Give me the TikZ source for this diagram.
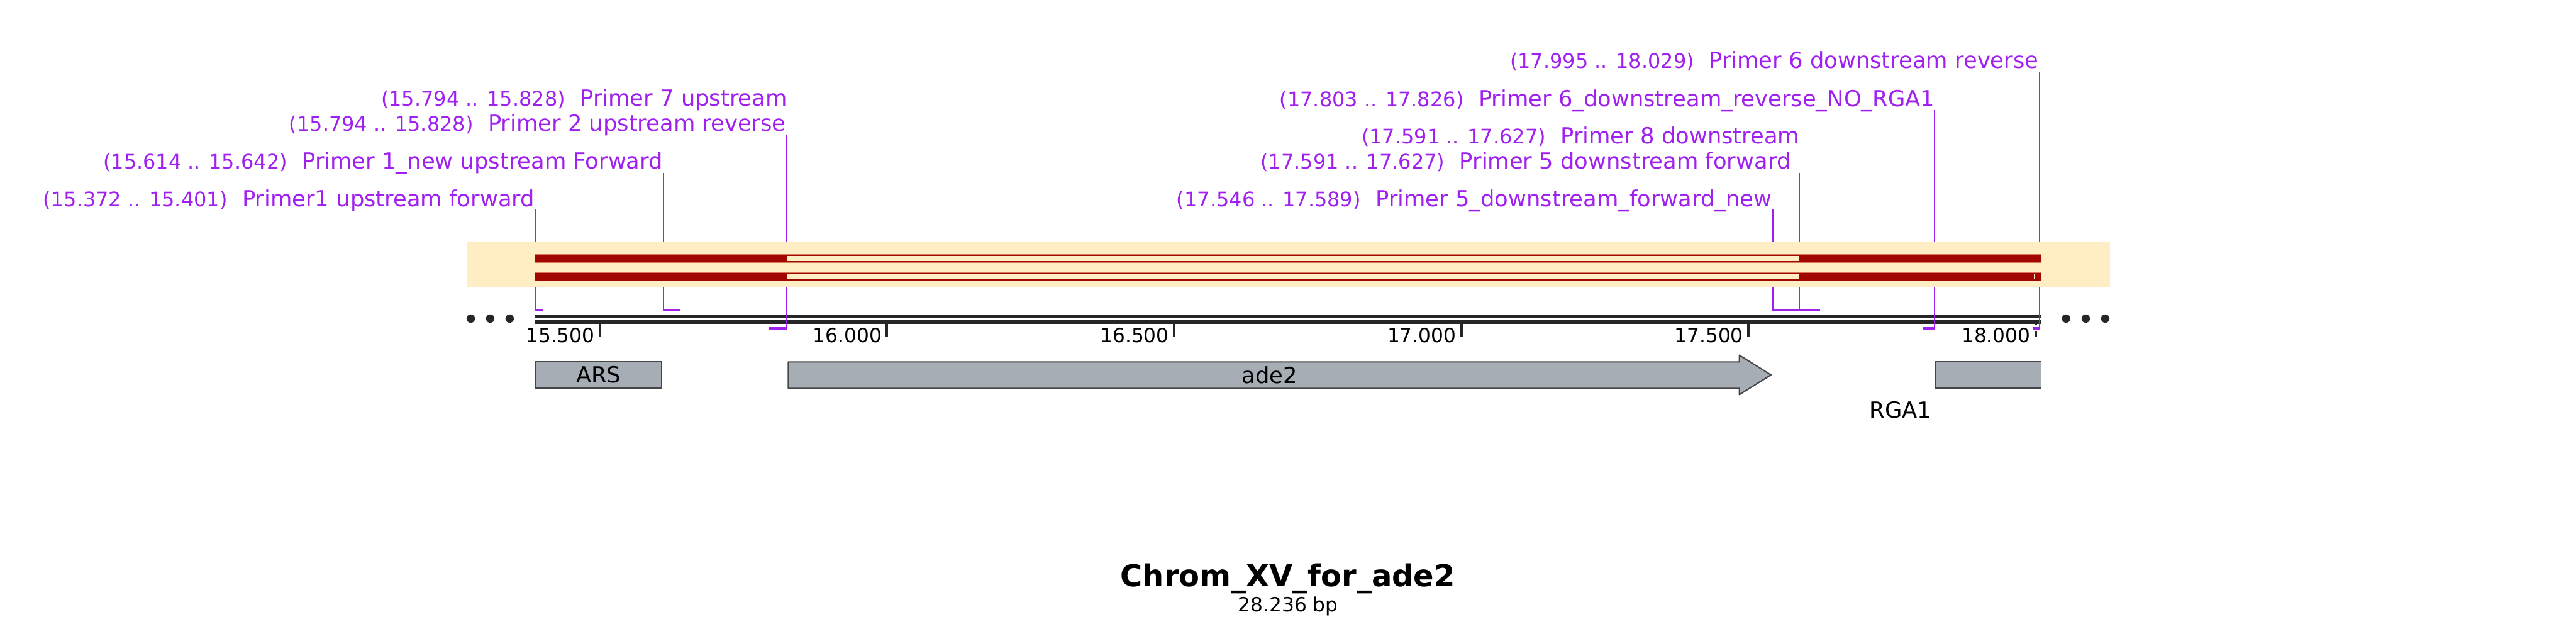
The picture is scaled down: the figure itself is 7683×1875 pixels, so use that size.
\documentclass[tikz,border=0pt]{standalone}
\usepackage{fontspec}
\setmainfont{DejaVu Sans}
\definecolor{prim}{RGB}{160,32,240}
\definecolor{bandc}{RGB}{255,238,196}
\definecolor{dred}{RGB}{162,6,0}
\definecolor{redge}{RGB}{214,120,90}
\definecolor{axisc}{RGB}{38,38,38}
\definecolor{genef}{RGB}{166,173,180}
\definecolor{genel}{RGB}{70,70,70}
\newcommand\FNm{\fontsize{6.63}{7}\selectfont}
\newcommand\FRg{\fontsize{6.0}{7}\selectfont}
\newcommand\FAx{\fontsize{5.85}{7}\selectfont}
\newcommand\FTi{\fontsize{9.0}{10}\selectfont\bfseries}
\begin{document}
\begin{tikzpicture}[x=0.1pt,y=-0.1pt,
  nm/.style={text=prim, font=\FNm, inner sep=0, anchor=base east},
  rg/.style={text=prim, font=\FRg, inner sep=0, anchor=base east},
  ax/.style={text=black, font=\FAx, inner sep=0, anchor=base east},
  pline/.style={draw=prim, line width=0.35pt},
  pblk/.style={fill=prim},
  gene/.style={fill=genef, draw=genel, line width=0.4pt, line join=round},
  gtext/.style={text=black, font=\FNm, inner sep=0, anchor=base}]
\useasboundingbox (0,0) rectangle (7683,1875);

% ---- band and red tracks ----
\node[fill=bandc, minimum width=490pt, minimum height=13.25pt, inner sep=0, anchor=north west] (band) at (1392,721) {};
\fill[dred, draw=redge, line width=0.1pt] (1595.5,758.3) rectangle (6088,783.3);
\fill[dred, draw=redge, line width=0.1pt] (1595.5,812.3) rectangle (6088,837.3);
\fill[bandc] (2346,763) rectangle (5366,779);
\fill[bandc] (2346,817) rectangle (5366,833);
\fill[bandc] (6066.7,816.7) rectangle (6070.7,832.7);

% ---- axis ----
\fill[axisc] (1595.5,938.3) rectangle (6088,950);
\fill[axisc] (1595.5,954) rectangle (6088,966.7);
\foreach \x/\t [count=\i] in {1789/15.500, 2645.4/16.000, 3501.8/16.500, 4358.2/17.000, 5214.6/17.500, 6071/18.000}{
  \fill[axisc] (\x-3.85,966.7) rectangle (\x+3.85,1004);
  \node[ax] (tick\i) at (\x-13.5,1021) {\t};
}
\foreach \x [count=\i] in {1404,1462,1520}{
  \fill[axisc] (\x,950) circle[radius=1.25pt];
}
\foreach \x [count=\i] in {6162.3,6220.7,6279}{
  \fill[axisc] (\x,950) circle[radius=1.25pt];
}

% ---- primer labels ----
\node[nm] (n1) at (1596.5,617) {Primer1 upstream forward};
\node[rg] (r1) at ([xshift=-4pt]n1.base west) {(15.372 .. 15.401)};
\node[nm] (n2) at (1979,504) {Primer 1\_new upstream Forward};
\node[rg] (r2) at ([xshift=-4pt]n2.base west) {(15.614 .. 15.642)};
\node[nm] (n3) at (2346,392) {Primer 2 upstream reverse};
\node[rg] (r3) at ([xshift=-4pt]n3.base west) {(15.794 .. 15.828)};
\node[nm] (n4) at (2350,317) {Primer 7 upstream};
\node[rg] (r4) at ([xshift=-4pt]n4.base west) {(15.794 .. 15.828)};
\node[nm] (n5) at (5287,617) {Primer 5\_downstream\_forward\_new};
\node[rg] (r5) at ([xshift=-4pt]n5.base west) {(17.546 .. 17.589)};
\node[nm] (n6) at (5343,504) {Primer 5 downstream forward};
\node[rg] (r6) at ([xshift=-4pt]n6.base west) {(17.591 .. 17.627)};
\node[nm] (n7) at (5369,429.5) {Primer 8 downstream};
\node[rg] (r7) at ([xshift=-4pt]n7.base west) {(17.591 .. 17.627)};
\node[nm] (n8) at (5772,318) {Primer 6\_downstream\_reverse\_NO\_RGA1};
\node[rg] (r8) at ([xshift=-4pt]n8.base west) {(17.803 .. 17.826)};
\node[nm] (n9) at (6082,204) {Primer 6 downstream reverse};
\node[rg] (r9) at ([xshift=-4pt]n9.base west) {(17.995 .. 18.029)};

% ---- primer blocks ----
\fill[pblk] (1597,921.2) rectangle (1618,929);
\fill[pblk] (1981,921.2) rectangle (2029,929);
\fill[pblk] (2292,975.3) rectangle (2346,982.7);
\fill[pblk] (5289.5,921.2) rectangle (5366,929);
\fill[pblk] (5369,921.2) rectangle (5429,929);
\fill[pblk] (5734,975.3) rectangle (5770.5,982.7);
\fill[white] (6058.3,970.3) rectangle (6089.7,987.7);
\fill[pblk] (6063.3,975.3) rectangle (6084.7,982.7);

% ---- primer lines ----
\coordinate (l1t) at (1595.5,623);  \coordinate (l1b) at (1595.5,929);
\coordinate (l2t) at (1978.5,515);  \coordinate (l2b) at (1978.5,929);
\coordinate (l3t) at (2346,402);    \coordinate (l3b) at (2346,982.7);
\coordinate (l4t) at (5287.5,624);  \coordinate (l4b) at (5287.5,929);
\coordinate (l5t) at (5366,516);    \coordinate (l5b) at (5366,929);
\coordinate (l6t) at (5770.5,328);  \coordinate (l6b) at (5770.5,982.7);
\coordinate (l7t) at (6082.7,215);  \coordinate (l7b) at (6082.7,982.7);
\foreach \k in {1,...,7}{
  \draw[pline] (l\k t) -- (l\k t |- band.north);
  \draw[pline] (l\k t |- band.south) -- (l\k b);
}

% ---- genes ----
\draw[gene] (1596,1079.3) rectangle (1974,1158);
\node[gtext] (ars) at (1785,1142) {ARS};
\draw[gene] (2351,1079.3) -- (5187.5,1079.3) -- (5187.5,1059) -- (5282,1118) -- (5187.5,1177) -- (5187.5,1158) -- (2351,1158) -- cycle;
\node[gtext] (ade) at (3787,1142.7) {ade2};
\fill[genef] (5772,1079.3) rectangle (6086,1158);
\draw[gene, fill=none] (6086,1079.3) -- (5772,1079.3) -- (5772,1158) -- (6086,1158);
\node[gtext] (rga) at (5668,1246) {RGA1};

% ---- title ----
\node[font=\FTi, inner sep=0, anchor=base] (title) at (3841,1750) {Chrom\_XV\_for\_ade2};
\node[font=\FAx, inner sep=0, anchor=base] (size) at (3842,1825) {28.236 bp};
\end{tikzpicture}
\end{document}
